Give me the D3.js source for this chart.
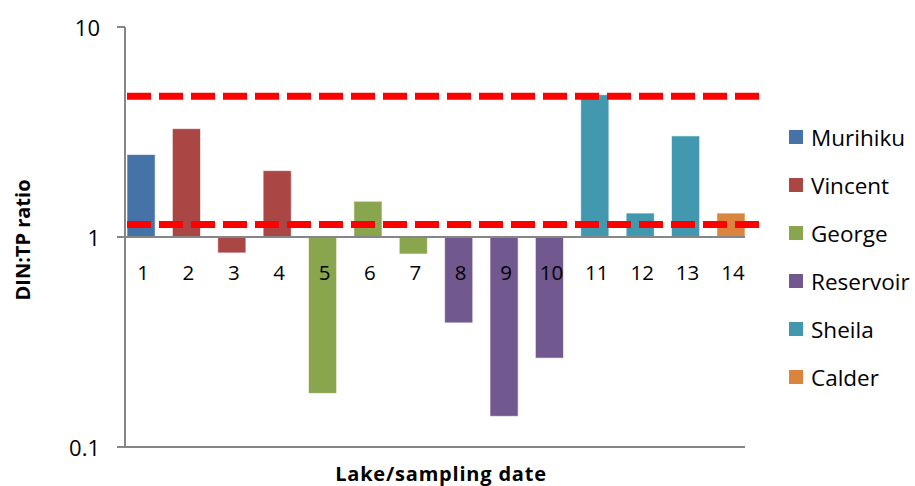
<!DOCTYPE html>
<html lang="en">
<head>
<meta charset="UTF-8">
<title>DIN:TP ratio</title>
<script src="https://d3js.org/d3.v7.min.js"></script>
<style>
  body { margin: 0; background: #fff; font-family: 'Open Sans', 'Liberation Sans', sans-serif; }
  svg { display: block; }
  .axis-line { stroke: #868686; stroke-width: 2; fill: none; }
  .tick-label { font-size: 22px; fill: #000; }
  .cat-label { font-size: 20.5px; fill: #000; }
  .axis-title { font-size: 20px; font-weight: bold; fill: #000; }
  .legend-text { font-size: 22.5px; fill: #000; }
  .bar { stroke: rgba(255,255,255,0.6); stroke-width: 1; }
  .ref-line { stroke: #ff0000; stroke-width: 7; stroke-dasharray: 24 8; }
</style>
</head>
<body>
<svg width="915" height="486"></svg>
<script>
// data
const samples = ["1","2","3","4","5","6","7","8","9","10","11","12","13","14"];
const lakeOf = ["Murihiku","Vincent","Vincent","Vincent","George","George","George",
                "Reservoir","Reservoir","Reservoir","Sheila","Sheila","Sheila","Calder"];
const ratios = [2.47, 3.28, 0.84, 2.07, 0.18, 1.48, 0.83, 0.39, 0.14, 0.265, 4.76, 1.30, 3.03, 1.30];
const lakes = ["Murihiku","Vincent","George","Reservoir","Sheila","Calder"];
const lakeColors = ["#4572A7","#AA4643","#89A54E","#71588F","#4198AF","#DB843D"];
const refLines = [4.68, 1.147];
const yTicks = [10, 1, 0.1];

const svg = d3.select("svg");

const plotLeft = 125, plotRight = 745, plotTop = 27, plotBottom = 447;

const y = d3.scaleLog().domain([0.1, 10]).range([plotBottom, plotTop]);
const x = d3.scaleBand().domain(samples).range([127, plotRight])
    .paddingInner(0.38).paddingOuter(0);
const color = d3.scaleOrdinal().domain(lakes).range(lakeColors);

// bars from baseline 1
svg.append("g").selectAll("rect")
    .data(samples)
    .join("rect")
    .attr("class", "bar")
    .attr("x", d => x(d))
    .attr("width", x.bandwidth())
    .attr("y", (d, i) => Math.min(y(ratios[i]), y(1)))
    .attr("height", (d, i) => Math.abs(y(ratios[i]) - y(1)))
    .attr("fill", (d, i) => color(lakeOf[i]));

// axes lines
svg.append("line").attr("class", "axis-line")
    .attr("x1", plotLeft).attr("x2", plotLeft)
    .attr("y1", plotTop).attr("y2", plotBottom);

yTicks.forEach(t => {
    svg.append("line").attr("class", "axis-line")
        .attr("x1", plotLeft - 8)
        .attr("x2", t === 10 ? plotLeft : plotRight)
        .attr("y1", y(t)).attr("y2", y(t));
    svg.append("text").attr("class", "tick-label")
        .attr("x", 100).attr("y", y(t))
        .attr("text-anchor", "end")
        .attr("dominant-baseline", "central")
        .text(t);
});

// category labels
svg.append("g").selectAll("text")
    .data(samples)
    .join("text")
    .attr("class", "cat-label")
    .attr("x", d => x(d) + x.bandwidth() / 2 + 2)
    .attr("y", 280)
    .attr("text-anchor", "middle")
    .text(d => d);

// red dashed reference lines
refLines.forEach(v => {
    svg.append("line").attr("class", "ref-line")
        .attr("x1", 127).attr("x2", 760)
        .attr("y1", y(v)).attr("y2", y(v));
});

// axis titles
svg.append("text").attr("class", "axis-title")
    .attr("text-anchor", "middle")
    .attr("transform", "translate(30,240) rotate(-90)")
    .text("DIN:TP ratio");

svg.append("text").attr("class", "axis-title")
    .attr("x", 441).attr("y", 481)
    .attr("text-anchor", "middle")
    .attr("letter-spacing", "0.8px")
    .text("Lake/sampling date");

// legend
const legend = svg.append("g").selectAll("g")
    .data(lakes)
    .join("g")
    .attr("transform", (d, i) => `translate(789,${137 + i * 48})`);

legend.append("rect")
    .attr("x", 0).attr("y", -7)
    .attr("width", 14).attr("height", 14)
    .attr("fill", d => color(d));

legend.append("text")
    .attr("class", "legend-text")
    .attr("x", 22).attr("y", 0)
    .attr("dominant-baseline", "central")
    .text(d => d);
</script>
</body>
</html>
